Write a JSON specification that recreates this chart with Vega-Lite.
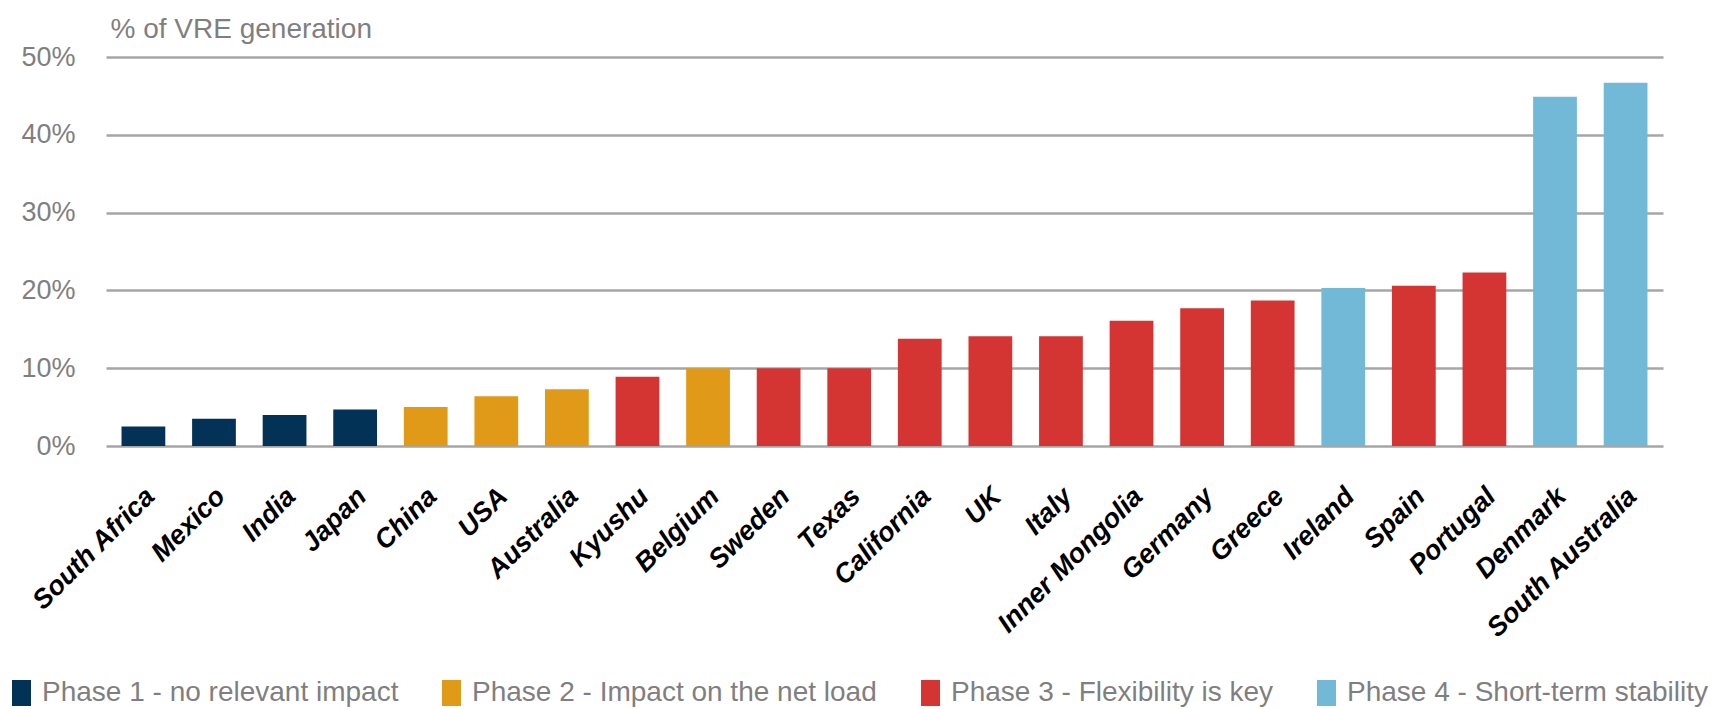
{
  "$schema": "https://vega.github.io/schema/vega-lite/v6.json",
  "width": 1557,
  "height": 389,
  "autosize": {"type": "none"},
  "padding": {"left": 106, "top": 57, "right": 58, "bottom": 263},
  "background": "#ffffff",
  "data": {
    "values": [
      {"region": "South Africa", "share": 2.5, "phase": "Phase 1 - no relevant impact"},
      {"region": "Mexico", "share": 3.5, "phase": "Phase 1 - no relevant impact"},
      {"region": "India", "share": 4.0, "phase": "Phase 1 - no relevant impact"},
      {"region": "Japan", "share": 4.7, "phase": "Phase 1 - no relevant impact"},
      {"region": "China", "share": 5.0, "phase": "Phase 2 - Impact on the net load"},
      {"region": "USA", "share": 6.4, "phase": "Phase 2 - Impact on the net load"},
      {"region": "Australia", "share": 7.3, "phase": "Phase 2 - Impact on the net load"},
      {"region": "Kyushu", "share": 8.9, "phase": "Phase 3 - Flexibility is key"},
      {"region": "Belgium", "share": 10.0, "phase": "Phase 2 - Impact on the net load"},
      {"region": "Sweden", "share": 10.0, "phase": "Phase 3 - Flexibility is key"},
      {"region": "Texas", "share": 10.0, "phase": "Phase 3 - Flexibility is key"},
      {"region": "California", "share": 13.8, "phase": "Phase 3 - Flexibility is key"},
      {"region": "UK", "share": 14.1, "phase": "Phase 3 - Flexibility is key"},
      {"region": "Italy", "share": 14.1, "phase": "Phase 3 - Flexibility is key"},
      {"region": "Inner Mongolia", "share": 16.1, "phase": "Phase 3 - Flexibility is key"},
      {"region": "Germany", "share": 17.7, "phase": "Phase 3 - Flexibility is key"},
      {"region": "Greece", "share": 18.7, "phase": "Phase 3 - Flexibility is key"},
      {"region": "Ireland", "share": 20.3, "phase": "Phase 4 - Short-term stability"},
      {"region": "Spain", "share": 20.6, "phase": "Phase 3 - Flexibility is key"},
      {"region": "Portugal", "share": 22.3, "phase": "Phase 3 - Flexibility is key"},
      {"region": "Denmark", "share": 44.9, "phase": "Phase 4 - Short-term stability"},
      {"region": "South Australia", "share": 46.7, "phase": "Phase 4 - Short-term stability"}
    ]
  },
  "mark": {"type": "bar"},
  "encoding": {
    "x": {
      "field": "region",
      "type": "nominal",
      "sort": null,
      "scale": {"paddingInner": 0.38, "paddingOuter": 0.22},
      "axis": {
        "title": null,
        "domain": false,
        "ticks": false,
        "grid": false,
        "labelAngle": -45,
        "labelAlign": "right",
        "labelBaseline": "middle",
        "labelPadding": 46,
        "labelOffset": 7,
        "labelFont": "Liberation Sans",
        "labelFontWeight": "bold",
        "labelFontStyle": "italic",
        "labelFontSize": 27,
        "labelColor": "#000000",
        "labelOverlap": false,
        "labelLimit": 400
      }
    },
    "y": {
      "field": "share",
      "type": "quantitative",
      "scale": {"domain": [0, 50], "nice": false},
      "axis": {
        "values": [0, 10, 20, 30, 40, 50],
        "labelExpr": "datum.value + '%'",
        "domain": false,
        "ticks": false,
        "grid": true,
        "gridColor": "#A6A6A6",
        "gridWidth": 2.5,
        "labelPadding": 31,
        "labelFont": "Liberation Sans",
        "labelFontSize": 27,
        "labelColor": "#7F7F7F",
        "title": "% of VRE generation",
        "titleAngle": 0,
        "titleAlign": "left",
        "titleBaseline": "alphabetic",
        "titleX": 4,
        "titleY": -20,
        "titleFont": "Liberation Sans",
        "titleFontSize": 28,
        "titleFontWeight": "normal",
        "titleColor": "#7F7F7F"
      }
    },
    "color": {
      "field": "phase",
      "type": "nominal",
      "scale": {
        "domain": ["Phase 1 - no relevant impact", "Phase 2 - Impact on the net load", "Phase 3 - Flexibility is key", "Phase 4 - Short-term stability"],
        "range": ["#023356", "#E19A17", "#D43533", "#71B9D7"]
      },
      "legend": {
        "title": null,
        "orient": "none",
        "direction": "horizontal",
        "columns": 4,
        "legendX": -98.5,
        "legendY": 622,
        "padding": 0,
        "symbolType": "M-0.73,-1H0.73V1H-0.73Z",
        "symbolSize": 676,
        "symbolStrokeWidth": 0,
        "symbolOpacity": 1,
        "labelOffset": 6.5,
        "columnPadding": 39,
        "labelFont": "Liberation Sans",
        "labelFontSize": 28,
        "labelColor": "#7F7F7F",
        "labelLimit": 600
      }
    }
  },
  "config": {"view": {"stroke": null}}
}
